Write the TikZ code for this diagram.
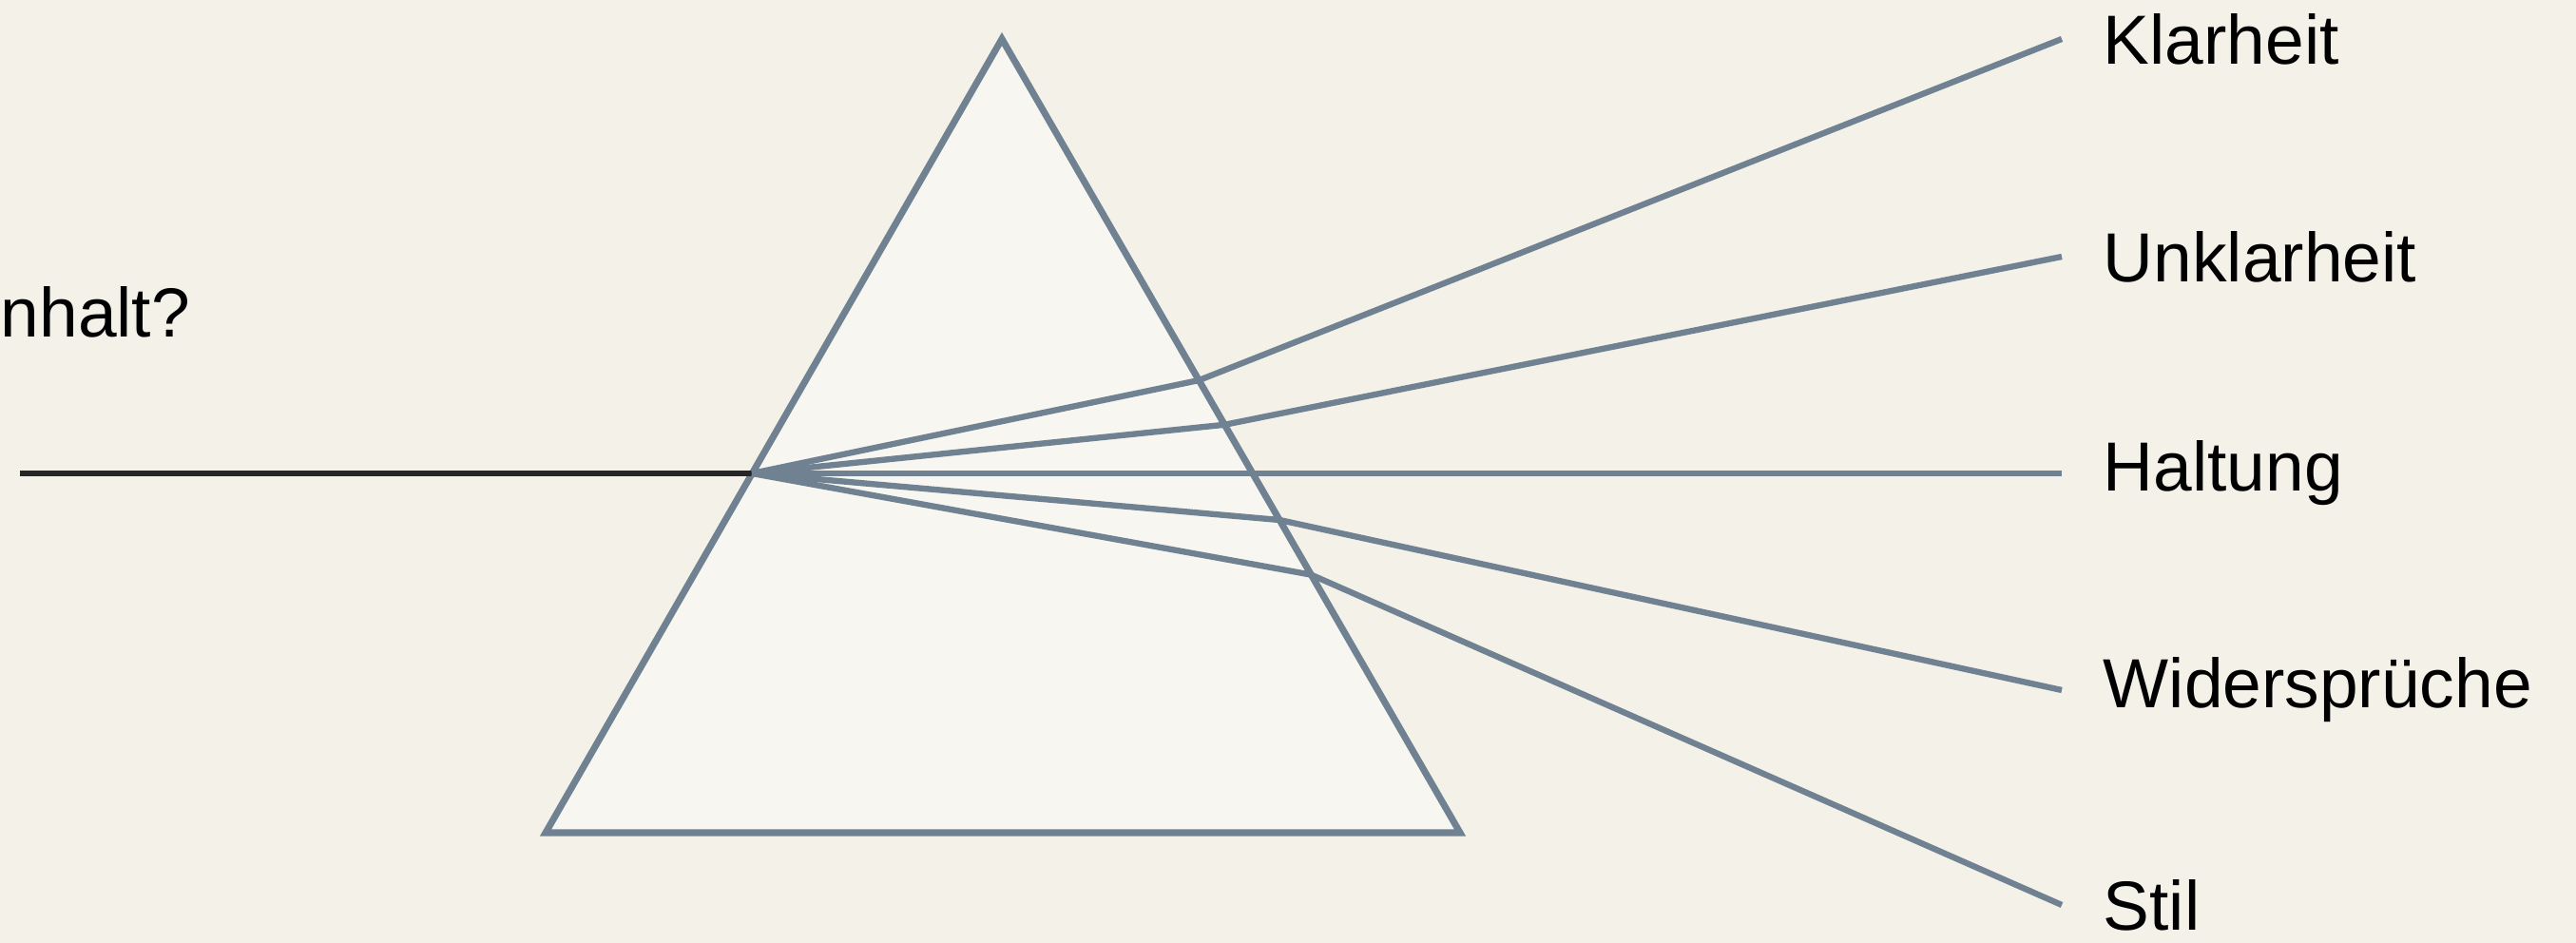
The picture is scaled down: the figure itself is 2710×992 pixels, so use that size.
\documentclass[tikz,border=0pt]{standalone}
\usepackage{fontspec}
\setmainfont{Liberation Sans}
\usetikzlibrary{positioning,calc}

\definecolor{paper}{RGB}{244,241,233}
\definecolor{glass}{RGB}{247,246,241}
\definecolor{slate}{RGB}{112,129,146}
\definecolor{beam}{RGB}{38,38,38}

\begin{document}
\begin{tikzpicture}[
  x=0.01cm, y=-0.01cm,
  font=\fontsize{20.8}{25}\selectfont,
  prism/.style={draw=slate, fill=glass, line width=2pt, line join=miter},
  ray/.style={draw=slate, line width=1.8pt, line join=round},
  inray/.style={draw=beam, line width=1.8pt},
  lbl/.style={anchor=west, inner xsep=43*0.01cm, inner ysep=0pt, text=black},
]
\fill[paper] (0,0) rectangle (2710,992);
\useasboundingbox (0,0) rectangle (2710,992);

% prism corners and entry point
\coordinate (top) at (1054,41);
\coordinate (bl)  at (574,876);
\coordinate (br)  at (1536,876);
\coordinate (o)   at (791,498);
\coordinate (src) at (21,498);

% exit points on the right face
\coordinate (k1) at ($(top)!0.430!(br)$);
\coordinate (u1) at ($(top)!0.486!(br)$);
\coordinate (w1) at ($(top)!0.606!(br)$);
\coordinate (s1) at ($(top)!0.675!(br)$);

\draw[prism] (top) -- (br) -- (bl) -- cycle;

\node[anchor=base west, inner sep=0pt] (question) at (0,355) {nhalt?};

\node[lbl] (klar)   at (2169,41)  {Klarheit};
\node[lbl] (unklar) at (2169,270) {Unklarheit};
\node[lbl] (halt)   at (2169,498) {Haltung};
\node[lbl] (wider)  at (2169,726) {Widersprüche};
\node[lbl] (stil)   at (2169,952) {Stil};

\draw[inray] (src) -- (o);
\draw[ray] (o) -- (k1) -- (klar.west);
\draw[ray] (o) -- (u1) -- (unklar.west);
\draw[ray] (o) -- (halt.west);
\draw[ray] (o) -- (w1) -- (wider.west);
\draw[ray] (o) -- (s1) -- (stil.west);

\end{tikzpicture}
\end{document}
